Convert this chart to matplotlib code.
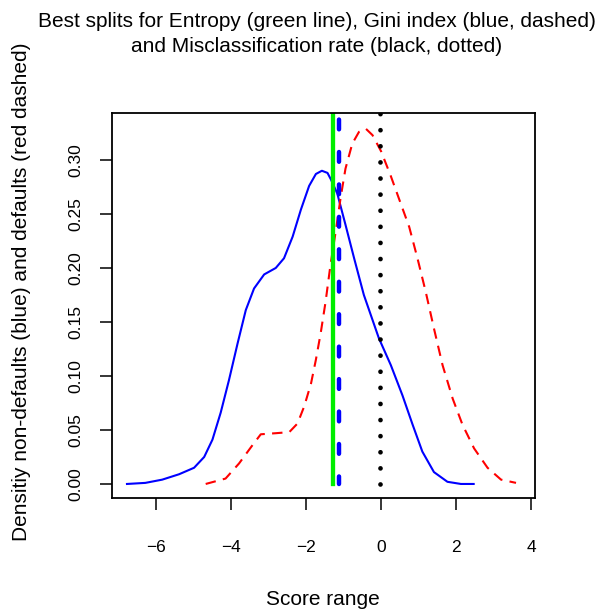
import numpy as np
import matplotlib.pyplot as plt

plt.rcParams['font.family'] = ['Liberation Sans', 'DejaVu Sans']

# density of non-defaults (blue)
x_nondef = [-6.78, -6.29, -5.84, -5.39, -4.99, -4.72, -4.50, -4.28, -4.06, -3.83,
            -3.61, -3.39, -3.12, -2.81, -2.59, -2.36, -2.14, -1.92, -1.74, -1.58,
            -1.43, -1.34, -1.17, -0.95, -0.72, -0.46, -0.06, 0.26, 0.57, 0.84,
            1.10, 1.41, 1.77, 2.13, 2.47]
y_nondef = [0.000, 0.001, 0.004, 0.009, 0.015, 0.025, 0.041, 0.066, 0.096, 0.130,
            0.161, 0.181, 0.194, 0.200, 0.209, 0.229, 0.254, 0.276, 0.287, 0.290,
            0.288, 0.282, 0.269, 0.240, 0.209, 0.175, 0.135, 0.110, 0.082, 0.055,
            0.030, 0.011, 0.002, 0.000, 0.000]

# density of defaults (red dashed)
x_def = [-4.68, -4.15, -3.79, -3.43, -3.21, -2.81, -2.45, -2.23, -2.05, -1.87,
         -1.74, -1.61, -1.48, -1.35, -1.21, -1.08, -0.95, -0.77, -0.59, -0.41,
         -0.23, 0.00, 0.26, 0.52, 0.75, 0.97, 1.19, 1.41, 1.64, 1.91,
         2.17, 2.48, 2.84, 3.20, 3.60]
y_def = [0.000, 0.005, 0.019, 0.036, 0.046, 0.047, 0.048, 0.056, 0.072, 0.093,
         0.115, 0.140, 0.169, 0.203, 0.234, 0.265, 0.292, 0.315, 0.326, 0.329,
         0.323, 0.308, 0.285, 0.260, 0.238, 0.209, 0.178, 0.144, 0.110, 0.079,
         0.055, 0.033, 0.015, 0.004, 0.001]

# best split points
split_entropy = -1.28
split_gini = -1.13
split_miscl = -0.04

xticks = [-6, -4, -2, 0, 2, 4]
yticks = [0.00, 0.05, 0.10, 0.15, 0.20, 0.25, 0.30]

fig = plt.figure(figsize=(6.07, 6.10), dpi=100)
ax = fig.add_axes([0.1845, 0.1836, 0.6965, 0.6312])

ax.plot(x_nondef, y_nondef, color='blue', lw=1.5)
ax.plot(x_def, y_def, color='red', lw=1.5, linestyle=(0, (5, 3.5)))

ax.plot([split_entropy, split_entropy], [0, 0.4], color='#00ee00', lw=3.1)
ax.plot([split_gini, split_gini], [0, 0.4], color='blue', lw=3.2,
        linestyle=(0.5, (2.2, 5.1)), dash_capstyle='round')
ax.plot([split_miscl, split_miscl], [0, 0.4], color='black', lw=3.4,
        linestyle=(0, (0.01, 3.4)), dash_capstyle='round')

ax.set_xlim(-7.18, 4.1)
ax.set_ylim(-0.013, 0.3435)
ax.set_xticks(xticks)
ax.set_xticklabels(['\u22126', '\u22124', '\u22122', '0', '2', '4'])
ax.set_yticks(yticks)
ax.set_yticklabels(['%.2f' % v for v in yticks], rotation=90, va='center')
ax.tick_params(direction='out', length=8.5, width=1.1, labelsize=12.5)
ax.tick_params(axis='x', pad=22)
ax.tick_params(axis='y', pad=12)
for s in ax.spines.values():
    s.set_linewidth(1.3)

fig.text(0.522, 0.965, 'Best splits for Entropy (green line), Gini index (blue, dashed)',
         ha='center', va='center', fontsize=15)
fig.text(0.522, 0.924, 'and Misclassification rate (black, dotted)',
         ha='center', va='center', fontsize=15)
fig.text(0.532, 0.0164, 'Score range', ha='center', va='center', fontsize=15)
fig.text(0.036, 0.522, 'Densitiy non-defaults (blue) and defaults (red dashed)',
         ha='center', va='center', rotation=90, fontsize=15)

plt.savefig('out.png', dpi=100)
